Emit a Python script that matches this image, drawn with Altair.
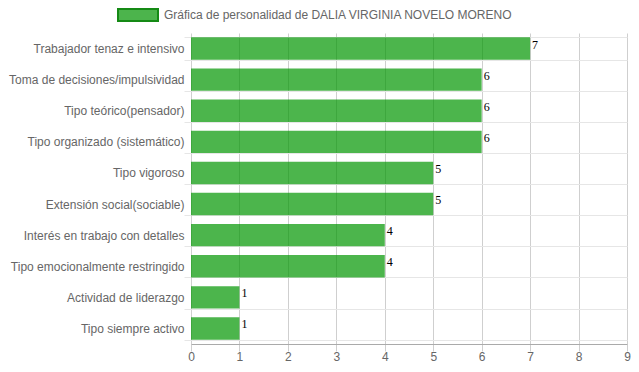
import altair as alt
import pandas as pd

categories = [
    "Trabajador tenaz e intensivo",
    "Toma de decisiones/impulsividad",
    "Tipo teórico(pensador)",
    "Tipo organizado (sistemático)",
    "Tipo vigoroso",
    "Extensión social(sociable)",
    "Interés en trabajo con detalles",
    "Tipo emocionalmente restringido",
    "Actividad de liderazgo",
    "Tipo siempre activo",
]
values = [7, 6, 6, 6, 5, 5, 4, 4, 1, 1]
series_name = "Gráfica de personalidad de DALIA VIRGINIA NOVELO MORENO"
x_ticks = [0, 1, 2, 3, 4, 5, 6, 7, 8, 9]

df = pd.DataFrame({"cat": categories, "val": values, "serie": [series_name] * len(values)})

FONT = "Liberation Sans"

y_enc = alt.Y(
    "cat:N",
    sort=categories,
    title=None,
    scale=alt.Scale(paddingInner=0.28, paddingOuter=0.14),
    axis=alt.Axis(
        domain=False,
        grid=True,
        gridColor="#e6e6e6",
        tickColor="#e6e6e6",
        tickSize=7,
        tickBand="extent",
        labelPadding=0,
        labelFont=FONT,
        labelFontSize=12,
        labelColor="#666666",
        labelLimit=300,
    ),
)

x_enc = alt.X(
    "val:Q",
    title=None,
    scale=alt.Scale(domain=[0, 9], nice=False),
    axis=alt.Axis(
        values=x_ticks,
        grid=True,
        gridColor="#cfcfcf",
        tickColor="#cfcfcf",
        tickSize=7,
        domain=True,
        domainColor="#aaaaaa",
        labelPadding=0,
        labelFont=FONT,
        labelFontSize=12,
        labelColor="#666666",
        labelFlush=False,
    ),
)

legend = alt.Legend(
    title=None,
    orient="none",
    legendX=-74,
    legendY=-39,
    symbolType="M-1,-0.3L1,-0.3L1,0.3L-1,0.3Z",
    symbolSize=1600,
    symbolOpacity=1,
    symbolStrokeWidth=2,
    labelFont=FONT,
    labelFontSize=12,
    labelColor="#666666",
    labelOffset=5,
    labelLimit=600,
)

bars = alt.Chart(df).mark_bar(opacity=0.7, color="#009600").encode(
    x=x_enc,
    y=y_enc,
)

# invisible layer that only carries the legend entry
legend_layer = alt.Chart(df).mark_point(
    filled=True, opacity=0, stroke="#158a15", strokeWidth=2
).encode(
    x=alt.X("val:Q"),
    y=alt.Y("cat:N", sort=categories),
    color=alt.Color("serie:N", scale=alt.Scale(range=["#4cb44c"]), legend=legend),
)

labels = alt.Chart(df).mark_text(
    align="left",
    baseline="middle",
    dx=2,
    dy=-4,
    font="Liberation Serif",
    fontSize=12,
    color="#000000",
).encode(
    x=alt.X("val:Q"),
    y=alt.Y("cat:N", sort=categories),
    text="val:Q",
)

chart = (
    alt.layer(bars, legend_layer, labels)
    .properties(
        width=436,
        height=311,
        autosize=alt.AutoSizeParams(type="none"),
        padding={"left": 183, "top": 25, "right": 4, "bottom": 20},
        background="#ffffff",
    )
    .configure_view(stroke=None)
)

chart.save("out.html", embed_options={"renderer": "svg", "actions": False})
